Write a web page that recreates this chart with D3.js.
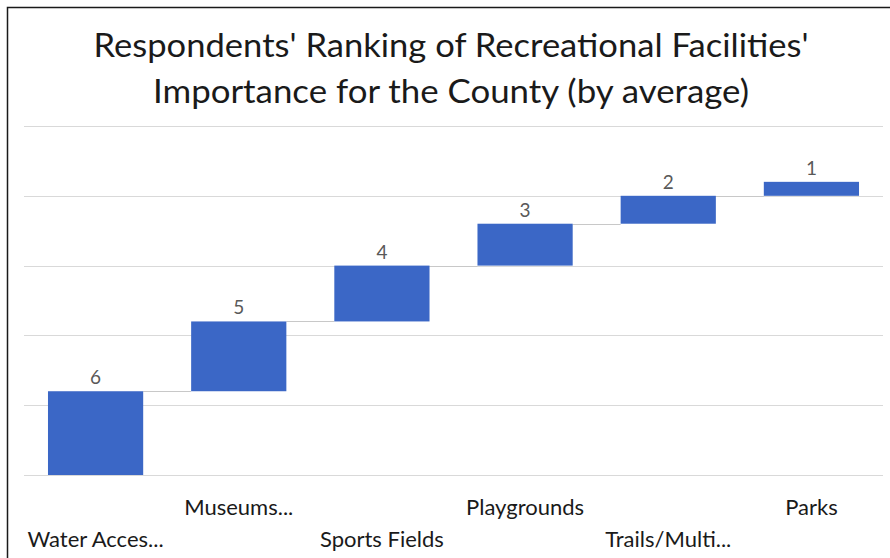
<!DOCTYPE html>
<html>
<head>
<meta charset="utf-8">
<script src="https://cdn.jsdelivr.net/npm/d3@7"></script>
<style>
  html, body { margin: 0; padding: 0; background: #fff; }
  svg { display: block; }
  text { font-family: Lato, "Open Sans", "Liberation Sans", sans-serif; }
</style>
</head>
<body>
<svg id="chart" width="890" height="558"></svg>
<script>
// ---- data ----
const categories = ["Water Acces...", "Museums...", "Sports Fields", "Playgrounds", "Trails/Multi...", "Parks"];
const values = [6, 5, 4, 3, 2, 1];
const gridTicks = [0, 5, 10, 15, 20, 25];
const titleLines = ["Respondents' Ranking of Recreational Facilities'", "Importance for the County (by average)"];

// ---- layout ----
const svg = d3.select("#chart");

// frame (left & top visible)
svg.append("rect").attr("x", 7.5).attr("y", 7.5).attr("width", 900).attr("height", 600)
  .attr("fill", "#fff").attr("stroke", "#1a1a1a").attr("stroke-width", 1.5);

const x = d3.scaleBand().domain(categories).range([24, 883]).paddingInner(0.335).paddingOuter(0.1675);
const y = d3.scaleLinear().domain([0, 25]).range([475, 126]);

// gridlines
svg.append("g").selectAll("line").data(gridTicks).join("line")
  .attr("x1", 24).attr("x2", 883)
  .attr("y1", d => Math.round(y(d)) + 0.5).attr("y2", d => Math.round(y(d)) + 0.5)
  .attr("stroke", "#d9d9d9").attr("stroke-width", 1.2);

// waterfall
const ends = d3.cumsum(values);
const data = categories.map((c, i) => ({ cat: c, value: values[i], start: ends[i] - values[i], end: ends[i] }));

// connectors
svg.append("g").selectAll("line").data(data.slice(0, -1)).join("line")
  .attr("x1", (d) => x(d.cat) + x.bandwidth())
  .attr("x2", (d, i) => x(data[i + 1].cat))
  .attr("y1", d => Math.round(y(d.end)) + 0.5).attr("y2", d => Math.round(y(d.end)) + 0.5)
  .attr("stroke", "#c8c8c8").attr("stroke-width", 1);

svg.append("g").selectAll("rect").data(data).join("rect")
  .attr("x", d => x(d.cat))
  .attr("width", x.bandwidth())
  .attr("y", d => y(d.end))
  .attr("height", d => y(d.start) - y(d.end))
  .attr("fill", "#3b67c6");

// value labels
svg.append("g").selectAll("text").data(data).join("text")
  .attr("x", d => x(d.cat) + x.bandwidth() / 2)
  .attr("y", d => y(d.end) - 7)
  .attr("text-anchor", "middle")
  .attr("font-size", 19)
  .attr("fill", "#595959")
  .text(d => d.value);

// category labels (staggered)
svg.append("g").selectAll("text").data(categories).join("text")
  .attr("x", d => x(d) + x.bandwidth() / 2)
  .attr("y", (d, i) => i % 2 === 0 ? 547 : 515)
  .attr("text-anchor", "middle")
  .attr("font-size", 22)
  .attr("fill", "#1a1a1a")
  .text(d => d);

// title
const titleWidths = [715, 596];
const titleBase = [57, 103];
titleLines.forEach((t, i) => {
  const el = svg.append("text")
    .attr("x", 451).attr("y", titleBase[i])
    .attr("text-anchor", "middle")
    .attr("font-size", 33)
    .attr("fill", "#1a1a1a")
    .text(t);
  const w = el.node().getComputedTextLength();
  if (Math.abs(w - titleWidths[i]) > 4) {
    el.attr("textLength", titleWidths[i]).attr("lengthAdjust", "spacingAndGlyphs");
  }
});
</script>
</body>
</html>
